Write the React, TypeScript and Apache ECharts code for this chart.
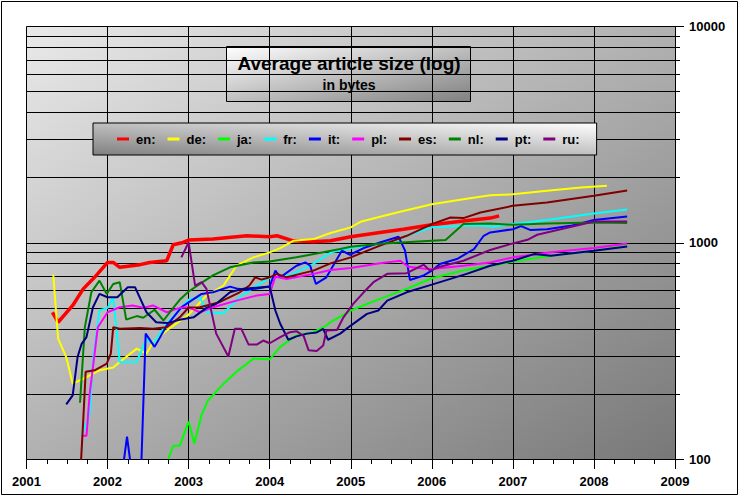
import React, { useEffect, useRef } from "react";
import * as echarts from "echarts";

const xMin = 2001;
const xMax = 2009;
const yMajor = [100, 1000, 10000];
const yGrid = [200, 300, 400, 500, 600, 700, 800, 900, 1000, 2000, 3000, 4000, 5000, 6000, 7000, 8000, 9000];

const seriesNames = ["en:", "de:", "ja:", "fr:", "it:", "pl:", "es:", "nl:", "pt:", "ru:"];
const seriesColors = ["#ff0000", "#ffff00", "#00ff00", "#00ffff", "#0000ff", "#ff00ff", "#800000", "#008000", "#000080", "#800080"];

const en = [[2001.32,477],[2001.39,429],[2001.57,513],[2001.70,612],[2001.84,692],[2002.0,811],[2002.07,811],[2002.15,770],[2002.40,792],[2002.52,811],[2002.73,826],[2002.81,979],[2002.93,1003],[2003.0,1029],[2003.30,1040],[2003.72,1077],[2004.0,1066],[2004.09,1077],[2004.29,1021],[2004.54,1011],[2004.75,1021],[2005.0,1066],[2005.36,1116],[2005.65,1155],[2006.0,1210],[2006.39,1262],[2006.72,1300],[2006.83,1332]];
const de = [[2001.33,713],[2001.39,360],[2001.49,296],[2001.57,223],[2001.70,235],[2001.90,257],[2002.07,265],[2002.15,281],[2002.36,324],[2002.48,307],[2002.56,347],[2002.73,393],[2003.0,465],[2003.22,570],[2003.43,634],[2003.59,783],[2003.80,856],[2004.0,903],[2004.13,945],[2004.29,1021],[2004.54,1040],[2004.75,1110],[2005.0,1178],[2005.12,1250],[2005.57,1380],[2006.0,1507],[2006.39,1589],[2006.72,1658],[2007.0,1675],[2007.42,1738],[2007.84,1800],[2008.16,1837]];
const ja = [[2002.75,100],[2002.81,115],[2002.89,115],[2003.0,149],[2003.07,118],[2003.16,160],[2003.24,187],[2003.32,201],[2003.43,223],[2003.61,257],[2003.80,291],[2004.0,289],[2004.13,330],[2004.33,373],[2004.54,386],[2004.70,414],[2004.75,430],[2004.87,455],[2005.0,486],[2005.36,550],[2005.69,612],[2006.0,685],[2006.43,751],[2006.72,780],[2007.0,818],[2007.47,871],[2008.0,919],[2008.41,970]];
const fr = [[2001.68,128],[2001.78,163],[2001.82,286],[2001.90,486],[2002.0,500],[2002.07,560],[2002.15,281],[2002.36,281],[2002.48,360],[2002.56,341],[2002.73,422],[2003.0,545],[2003.14,560],[2003.22,477],[2003.43,472],[2003.63,560],[2003.84,634],[2004.0,688],[2004.25,706],[2004.54,798],[2004.75,900],[2005.0,945],[2005.49,1003],[2005.69,1077],[2006.0,1178],[2006.39,1197],[2006.60,1205],[2006.76,1185],[2007.0,1220],[2007.42,1273],[2008.0,1365],[2008.41,1424]];
const it = [[2002.17,80],[2002.24,127],[2002.31,80],[2002.41,80],[2002.47,380],[2002.58,330],[2002.73,414],[2002.91,503],[2003.0,530],[2003.16,580],[2003.30,590],[2003.51,627],[2003.61,612],[2003.72,605],[2004.0,627],[2004.07,743],[2004.13,692],[2004.33,783],[2004.44,811],[2004.50,783],[2004.57,645],[2004.70,692],[2004.89,919],[2004.99,880],[2005.16,945],[2005.36,1003],[2005.59,1066],[2005.67,919],[2005.73,673],[2005.90,706],[2006.0,743],[2006.10,798],[2006.31,841],[2006.52,935],[2006.64,1077],[2006.72,1116],[2007.0,1155],[2007.10,1194],[2007.22,1144],[2007.42,1155],[2007.71,1197],[2008.0,1273],[2008.41,1322]];
const pl = [[2001.68,128],[2001.74,128],[2001.78,201],[2001.88,407],[2002.0,477],[2002.15,503],[2002.31,513],[2002.44,500],[2002.56,513],[2002.73,477],[2002.89,500],[2003.0,503],[2003.14,477],[2003.30,503],[2003.59,540],[2003.84,570],[2004.0,580],[2004.07,697],[2004.21,680],[2004.54,718],[2004.75,748],[2005.0,764],[2005.36,803],[2005.61,826],[2005.71,775],[2005.94,756],[2006.0,756],[2006.39,783],[2006.72,811],[2007.0,856],[2007.47,903],[2008.0,945],[2008.41,993]];
const es = [[2001.66,80],[2001.70,151],[2001.73,253],[2001.84,257],[2001.99,276],[2002.04,307],[2002.07,407],[2002.15,400],[2002.40,403],[2002.56,400],[2002.73,407],[2002.89,452],[2003.0,502],[2003.14,503],[2003.38,531],[2003.63,590],[2003.75,634],[2003.82,692],[2003.90,675],[2004.0,692],[2004.09,718],[2004.21,692],[2004.54,743],[2004.75,803],[2005.0,856],[2005.36,970],[2005.69,1077],[2006.0,1220],[2006.23,1309],[2006.39,1300],[2006.60,1380],[2007.0,1482],[2007.42,1535],[2008.0,1650],[2008.41,1743]];
const nl = [[2001.66,182],[2001.68,239],[2001.72,407],[2001.80,590],[2001.90,668],[2001.99,580],[2002.07,645],[2002.15,657],[2002.23,441],[2002.36,458],[2002.44,450],[2002.58,490],[2002.69,437],[2002.81,500],[2002.89,545],[2003.0,595],[2003.14,645],[2003.30,706],[2003.51,770],[2003.80,811],[2004.0,819],[2004.33,856],[2004.66,903],[2004.87,935],[2005.0,959],[2005.36,990],[2005.78,1011],[2006.17,1029],[2006.39,1220],[2006.72,1227],[2007.0,1210],[2007.42,1227],[2008.0,1241],[2008.41,1235]];
const pt = [[2001.49,179],[2001.57,197],[2001.63,296],[2001.68,341],[2001.74,366],[2001.82,503],[2001.90,580],[2002.0,560],[2002.12,560],[2002.25,622],[2002.34,622],[2002.48,477],[2002.60,429],[2002.73,425],[2002.89,440],[2003.06,452],[2003.22,500],[2003.34,522],[2003.51,590],[2003.67,612],[2004.0,627],[2004.07,486],[2004.13,422],[2004.23,356],[2004.33,369],[2004.46,380],[2004.58,385],[2004.66,400],[2004.72,356],[2004.87,380],[2005.0,414],[2005.20,469],[2005.34,486],[2005.45,540],[2005.69,590],[2006.0,640],[2006.43,718],[2006.72,783],[2007.0,826],[2007.26,886],[2007.47,871],[2008.0,919],[2008.41,961]];
const ru = [[2002.91,856],[2003.0,1003],[2003.08,634],[2003.16,657],[2003.22,612],[2003.34,380],[2003.49,298],[2003.57,400],[2003.65,400],[2003.74,338],[2003.84,338],[2003.92,353],[2004.0,343],[2004.13,366],[2004.25,386],[2004.33,390],[2004.42,370],[2004.48,318],[2004.58,316],[2004.66,335],[2004.70,393],[2004.83,395],[2004.91,452],[2005.03,522],[2005.16,590],[2005.28,657],[2005.45,718],[2005.69,723],[2005.90,792],[2005.98,743],[2006.10,775],[2006.39,826],[2006.72,926],[2007.0,993],[2007.18,1032],[2007.30,1089],[2007.59,1155],[2008.0,1254],[2008.41,1254]];

const seriesData = [en, de, ja, fr, it, pl, es, nl, pt, ru];

const titleText = "Average article size (log)";
const subText = "in bytes";

const FONT = '"Liberation Sans", Arial, sans-serif';

export default function App() {
  const ref = useRef<HTMLDivElement>(null);
  useEffect(() => {
    document.body.style.margin = "0";
    const chart = echarts.init(ref.current!, null, { renderer: "svg" });
    const lineSeries = seriesNames.map((name, i) => ({
      name,
      type: "line",
      data: seriesData[i],
      showSymbol: false,
      symbol: "none",
      color: seriesColors[i],
      lineStyle: { width: i === 0 ? 3.5 : 2, color: seriesColors[i] },
      clip: true,
      z: 3,
    }));
    chart.setOption({
      animation: false,
      backgroundColor: "#ffffff",
      textStyle: { fontFamily: FONT },
      grid: {
        left: 26.5,
        top: 26.5,
        right: 64,
        bottom: 37,
        show: true,
        borderWidth: 0,
        backgroundColor: new echarts.graphic.LinearGradient(0, 0, 1, 1, [
          { offset: 0, color: "#e9e9e9" },
          { offset: 1, color: "#787878" },
        ]),
      },
      legend: {
        data: seriesNames,
        left: 93,
        top: 123,
        padding: [9, 17, 9, 24],
        itemGap: 12,
        itemWidth: 12,
        itemHeight: 3,
        icon: "rect",
        selectedMode: false,
        backgroundColor: new echarts.graphic.LinearGradient(0, 1, 1, 0, [
          { offset: 0, color: "#808080" },
          { offset: 1, color: "#ffffff" },
        ]),
        borderColor: "#000",
        borderWidth: 1,
        textStyle: { fontFamily: FONT, fontWeight: "bold", fontSize: 13, color: "#000", lineHeight: 14, padding: [0, 0, 0, 2] },
      },
      xAxis: {
        type: "value",
        min: xMin,
        max: xMax,
        interval: 1,
        axisLine: { show: true, lineStyle: { color: "#000", width: 1 } },
        axisTick: { show: true, length: 10, lineStyle: { color: "#000" } },
        minorTick: { show: true, splitNumber: 4, length: 5, lineStyle: { color: "#000" } },
        splitLine: { show: true, lineStyle: { color: "#000", width: 1 } },
        axisLabel: {
          color: "#000",
          margin: 16,
          formatter: (v: number) => "{y|" + String(v) + "}",
          rich: { y: { fontFamily: FONT, fontWeight: "bold", fontSize: 13, color: "#000" } },
        },
      },
      yAxis: [
        {
          type: "log",
          logBase: 10,
          min: 100,
          max: 10000,
          position: "right",
          axisLine: { show: true, lineStyle: { color: "#000" } },
          axisTick: { show: true, length: 5, customValues: yGrid, lineStyle: { color: "#000" } },
          axisLabel: { show: false },
          splitLine: { show: true, lineStyle: { color: "#000", width: 1 } },
        },
        {
          type: "log",
          logBase: 10,
          min: 100,
          max: 10000,
          position: "right",
          axisLine: { show: false },
          axisTick: { show: true, length: 9, customValues: yMajor, lineStyle: { color: "#000" } },
          axisLabel: {
            show: true,
            customValues: yMajor,
            fontFamily: FONT,
            fontWeight: "bold",
            fontSize: 13,
            color: "#000",
            margin: 14,
            formatter: (v: number) => String(Math.round(v)),
          },
          splitLine: { show: true, lineStyle: { color: "#000", width: 1 } },
        },
      ],
      series: lineSeries,
      graphic: [
        {
          type: "rect",
          z: 100,
          shape: { x: 1.5, y: 1.5, width: 736, height: 493 },
          style: { fill: "none", stroke: "#000", lineWidth: 1 },
        },
        {
          type: "group",
          z: 100,
          children: [
            {
              type: "rect",
              shape: { x: 226.5, y: 46.5, width: 244, height: 55 },
              style: {
                fill: new echarts.graphic.LinearGradient(0, 0, 1, 1, [
                  { offset: 0, color: "#ffffff" },
                  { offset: 1, color: "#808080" },
                ]),
                stroke: "#000",
                lineWidth: 1,
              },
            },
            {
              type: "text",
              x: 349,
              y: 63,
              style: { text: titleText, font: `bold 19px ${FONT}`, fill: "#000", align: "center", verticalAlign: "middle" },
            },
            {
              type: "text",
              x: 349,
              y: 85,
              style: { text: subText, font: `bold 14px ${FONT}`, fill: "#000", align: "center", verticalAlign: "middle" },
            },
          ],
        },
      ],
    });
    return () => chart.dispose();
  }, []);
  return <div ref={ref} style={{ width: 739, height: 496 }} />;
}
